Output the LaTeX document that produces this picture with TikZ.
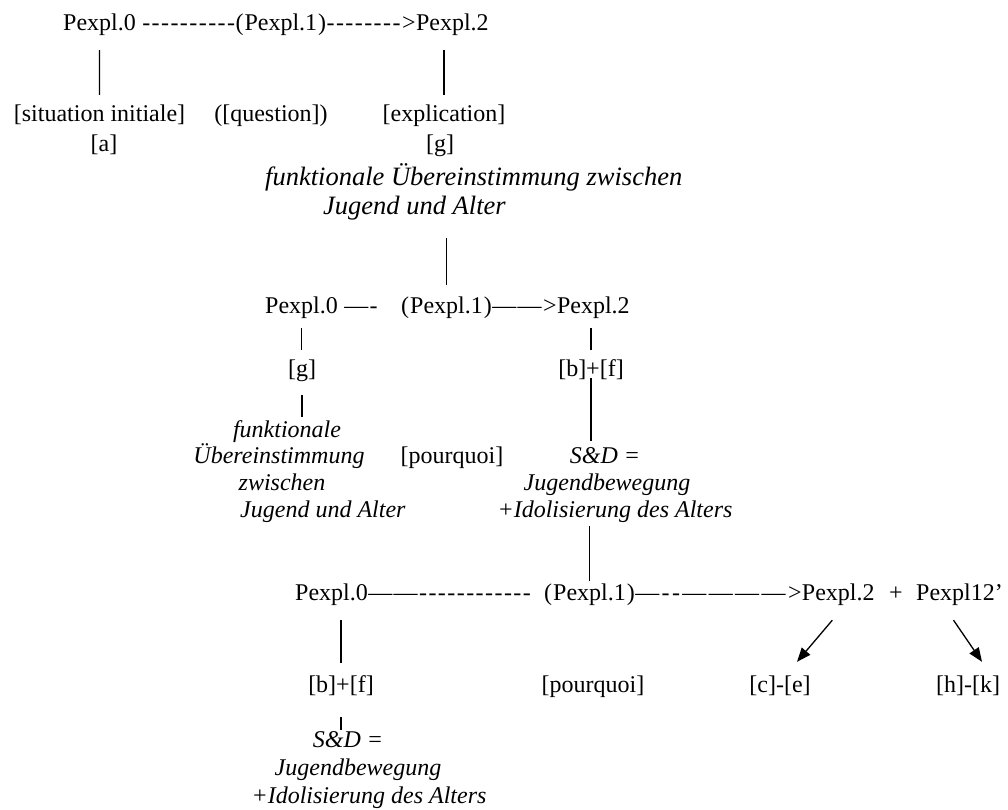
\documentclass[tikz,border=0pt]{standalone}
\usepackage{fontspec}
\setmainfont{Liberation Serif}
\newfontface\dashface{Liberation Serif}[LetterSpace=6]
\newfontface\dashwide{Liberation Serif}[LetterSpace=10]
\usetikzlibrary{arrows.meta}

\begin{document}
\begin{tikzpicture}[x=1pt,y=1pt,
  txt/.style={inner sep=0pt, text height=17pt, text depth=5pt},
  rm/.style={txt, anchor=base, font=\fontsize{24}{27}\selectfont},
  rmw/.style={rm, anchor=base west},
  itx/.style={txt, anchor=base, font=\fontsize{24}{27}\selectfont\itshape},
  itxw/.style={itx, anchor=base west},
  itbig/.style={txt, anchor=base west, font=\fontsize{26.5}{30}\selectfont\itshape},
  dsh/.style={txt, anchor=base west, font=\fontsize{24}{27}\selectfont\dashface},
  dshw/.style={txt, anchor=base west, font=\fontsize{24}{27}\selectfont\dashwide},
  link/.style={line width=1.2pt},
  arr/.style={line width=1.3pt, -{Triangle[length=14pt,width=11pt]}}]

\useasboundingbox (0,0) rectangle (1008,-809);

% ---- first level
\node[rmw] (p10) at (63,-30) {Pexpl.0};
\node[dsh] (d11) at ([xshift=6pt]p10.base east) {-{}-{}-{}-{}-{}-{}-{}-{}-{}-};
\node[rmw] (p11) at (d11.base east) {(\kern1pt Pexpl.1\kern1pt)};
\node[dsh] (d12) at (p11.base east) {-{}-{}-{}-{}-{}-{}-{}->};
\node[rmw] (p12) at (d12.base east) {Pexpl.2};

\node[rm] (sit)  at (99.5,-121) {[situation initiale]};
\node[rm] (qst)  at (271,-121) {([question])};
\node[rm] (expl) at (444,-121) {[explication]};
\node[rm] (a1)   at (104,-151) {[a]};
\node[rm] (g1)   at (440,-151) {[g]};

\node[itbig] (fu1) at (265,-185) {funktionale Übereinstimmung zwischen};
\node[itbig] (ju1) at (323,-214) {Jugend und Alter};

\draw[link] ([yshift=-15pt]p10.south) -- ([yshift=9pt]sit.north);
\draw[link] ([yshift=9pt]expl.north) -- ++(0,45);

% ---- second level
\node[rmw] (p40) at (265,-313) {Pexpl.0};
\node[dsh] (d41) at ([xshift=6pt]p40.base east) {—-};
\node[rmw] (p41) at (401,-313) {(\kern1pt Pexpl.1\kern1pt)};
\node[dsh] (d42) at (p41.base east) {——>};
\node[rmw] (p42) at (d42.base east) {Pexpl.2};

\draw[link] ([yshift=11pt]p41.north) -- ++(0,47);

\node[rm] (g4) at (302,-376) {[g]};
\node[itx] (fun4) at (287,-437) {funktionale};
\node[itx] (ube4) at (279,-463) {Übereinstimmung};
\node[itx] (zw4)  at (282,-490) {zwischen};
\node[itxw] (jua4) at (240,-517) {Jugend und Alter};

\node[rm] (pq4) at (452,-463) {[pourquoi]};

\node[rm] (bf4) at (591,-376) {[b]+[f]};
\node[itx] (sd4) at (605,-463) {S\&D =};
\node[itx] (jb4) at (607,-490) {Jugendbewegung};
\node[itx] (id4) at (615,-517) {+Idolisierung des Alters};

\draw[link] ([yshift=-10pt]p40.south) -- ++(0,-22);
\draw[link] ([yshift=-14pt]g4.south) -- ++(0,-22);
\draw[link] ([yshift=-10pt]p42.south -| bf4.north) -- ++(0,-22);
\draw[link] ([yshift=3pt]bf4.south) -- ++(0,-63);

% ---- third level
\node[rmw] (p50) at (295,-600) {Pexpl.0};
\node[dsh] (d51) at (p50.base east) {——-{}-{}-{}-{}-{}-{}-{}-{}-{}-{}-{}-};
\node[rmw] (p51) at (544,-600) {(\kern1pt Pexpl.1\kern1pt)};
\node[dshw] (d52) at (p51.base east) {—-{}-————>};
\node[rmw] (p52) at (d52.base east) {Pexpl.2};
\node[rm]  (pl5) at (896,-600) {+};
\node[rmw] (p53) at (916,-600) {Pexpl12’};

\draw[link] ([yshift=2pt]p51.north) -- ++(0,55);

\node[rm] (bf5) at (341,-692) {[b]+[f]};
\node[itx] (sd5) at (348,-747) {S\&D =};
\node[itx] (jb5) at (358,-775) {Jugendbewegung};
\node[itx] (id5) at (369,-803) {+Idolisierung des Alters};

\node[rm] (pq5) at (593,-692) {[pourquoi]};
\node[rm] (ce5) at (780,-692) {[c]-[e]};
\node[rm] (hk5) at (968,-692) {[h]-[k]};

\draw[link] ([yshift=12pt]bf5.north) -- ++(0,43);
\draw[link] ([yshift=-20pt]bf5.south) -- ++(0,-13);

\draw[arr] ([xshift=-6pt,yshift=-15pt]p52.south) -- ([xshift=17pt,yshift=13pt]ce5.north);
\draw[arr] ([xshift=-6pt,yshift=-15pt]p53.south) -- ([xshift=14pt,yshift=13pt]hk5.north);
\end{tikzpicture}
\end{document}
